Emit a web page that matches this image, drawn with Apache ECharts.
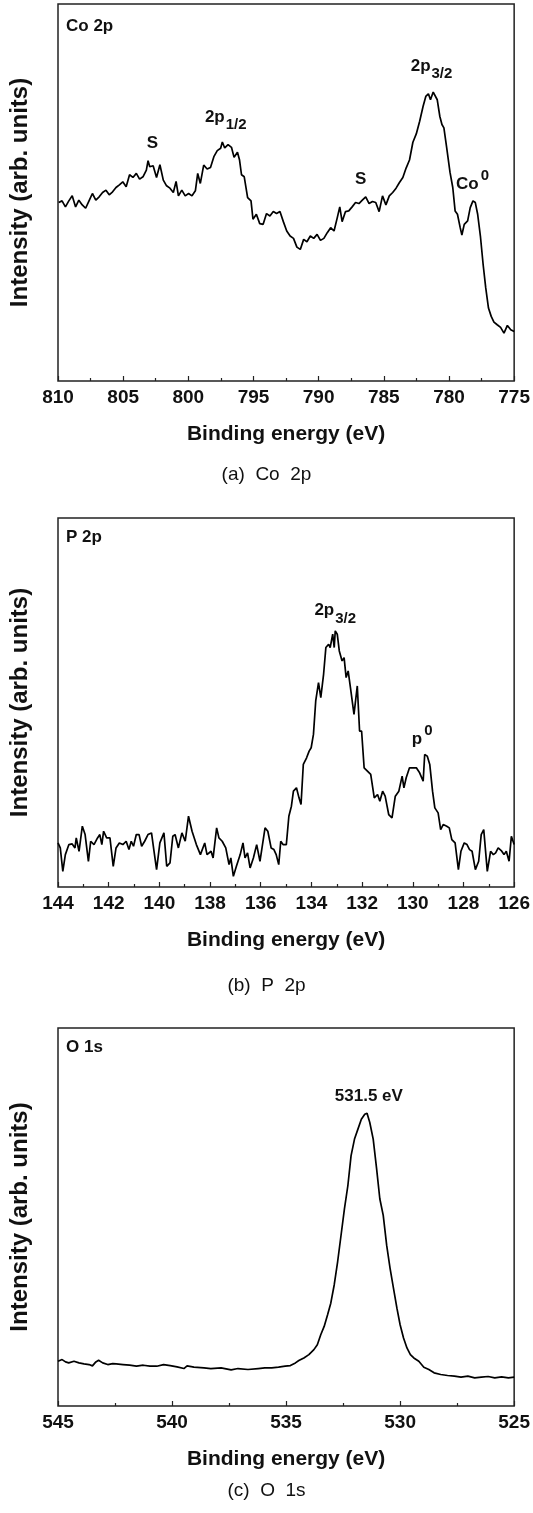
<!DOCTYPE html>
<html>
<head>
<meta charset="utf-8">
<title>XPS spectra: Co 2p, P 2p, O 1s</title>
<script src="https://cdn.jsdelivr.net/npm/echarts@6/dist/echarts.min.js"></script>
<style>
  html, body {margin: 0; padding: 0; background: #fff;}
  #chart {width: 533px; height: 1513px;}
</style>
</head>
<body>
<div id="chart"></div>
<script>
// (a) Co 2p -- binding energy (eV) and intensity (arb. units)
const coEnergy = [
  809.95, 809.69, 809.43, 809.17, 808.91, 808.65, 808.40, 808.14, 807.88, 807.62,
  807.36, 807.10, 806.84, 806.58, 806.32, 806.07, 805.81, 805.55, 805.29, 805.03,
  804.77, 804.51, 804.25, 803.99, 803.74, 803.48, 803.22, 803.09, 802.96, 802.70,
  802.44, 802.18, 801.92, 801.67, 801.41, 801.15, 800.94, 800.76, 800.50, 800.24,
  799.98, 799.72, 799.46, 799.28, 799.08, 798.82, 798.56, 798.30, 798.04, 797.78,
  797.52, 797.39, 797.21, 796.95, 796.69, 796.49, 796.23, 796.07, 795.92, 795.71,
  795.45, 795.19, 795.04, 794.78, 794.52, 794.26, 794.00, 793.74, 793.48, 793.23,
  792.97, 792.71, 792.45, 792.19, 791.93, 791.67, 791.41, 791.15, 790.90, 790.64,
  790.38, 790.12, 789.86, 789.60, 789.34, 789.08, 788.82, 788.57, 788.38, 788.20,
  787.94, 787.69, 787.43, 787.17, 786.91, 786.65, 786.39, 786.13, 785.87, 785.62,
  785.36, 785.10, 784.84, 784.58, 784.32, 784.06, 783.80, 783.54, 783.29, 783.03,
  782.77, 782.51, 782.25, 781.99, 781.78, 781.58, 781.42, 781.21, 781.06, 780.90,
  780.70, 780.54, 780.39, 780.18, 779.92, 779.71, 779.53, 779.35, 779.14, 779.01,
  778.83, 778.57, 778.37, 778.16, 777.98, 777.80, 777.59, 777.38, 777.18, 776.97,
  776.76, 776.55, 776.30, 776.04, 775.78, 775.52, 775.26, 775.00
];
const coIntensity = [
  53.3, 53.8, 52.0, 53.8, 55.3, 52.0, 54.0, 52.6, 51.6, 53.8,
  56.0, 54.0, 55.0, 56.3, 57.0, 55.6, 56.5, 57.8, 58.6, 59.5,
  58.0, 61.6, 60.8, 62.0, 60.3, 61.0, 63.0, 65.8, 64.0, 64.3,
  60.8, 64.6, 60.0, 58.3, 57.6, 56.3, 59.6, 55.3, 57.0, 55.3,
  56.0, 55.3, 56.8, 62.0, 59.0, 64.5, 63.3, 63.8, 67.0, 68.8,
  69.5, 71.4, 69.6, 70.6, 69.8, 66.8, 68.3, 66.0, 61.6, 61.0,
  54.8, 53.8, 48.3, 49.8, 47.0, 46.8, 50.0, 49.3, 50.6, 50.0,
  50.6, 47.6, 44.8, 43.3, 42.6, 40.0, 39.3, 42.3, 41.6, 43.3,
  42.6, 43.8, 42.0, 42.6, 44.3, 45.8, 44.8, 48.8, 52.0, 47.6,
  50.6, 50.8, 52.0, 53.3, 53.0, 54.0, 55.0, 53.0, 53.6, 53.3,
  50.6, 55.3, 52.6, 55.3, 56.3, 57.6, 59.3, 60.8, 63.6, 66.0,
  71.3, 73.8, 77.6, 82.0, 85.0, 85.8, 84.0, 86.3, 86.8, 84.0,
  79.0, 76.6, 75.6, 69.8, 62.3, 57.8, 50.8, 49.8, 45.8, 43.6,
  46.8, 47.8, 51.8, 53.8, 53.3, 49.8, 43.3, 34.8, 27.8, 21.8,
  19.3, 17.6, 16.8, 16.0, 14.3, 16.6, 15.3, 14.8
];

// (b) P 2p
const pEnergy = [
  144.00, 143.91, 143.81, 143.71, 143.57, 143.44, 143.33, 143.28, 143.17, 143.04,
  142.93, 142.80, 142.71, 142.58, 142.44, 142.35, 142.27, 142.20, 142.08, 141.95,
  141.82, 141.71, 141.58, 141.44, 141.31, 141.20, 141.11, 141.02, 140.91, 140.80,
  140.70, 140.58, 140.45, 140.31, 140.22, 140.11, 139.98, 139.82, 139.71, 139.58,
  139.47, 139.38, 139.25, 139.11, 138.98, 138.85, 138.71, 138.54, 138.38, 138.21,
  138.12, 137.96, 137.88, 137.74, 137.65, 137.52, 137.38, 137.25, 137.18, 137.08,
  136.96, 136.81, 136.70, 136.62, 136.52, 136.42, 136.29, 136.16, 136.03, 135.83,
  135.72, 135.59, 135.48, 135.39, 135.29, 135.21, 135.12, 134.99, 134.89, 134.79,
  134.71, 134.59, 134.49, 134.41, 134.32, 134.19, 134.09, 134.01, 133.92, 133.83,
  133.72, 133.63, 133.52, 133.43, 133.32, 133.26, 133.16, 133.10, 133.06, 132.98,
  132.90, 132.79, 132.71, 132.63, 132.55, 132.46, 132.32, 132.19, 132.10, 132.02,
  131.92, 131.79, 131.66, 131.52, 131.39, 131.30, 131.19, 131.09, 130.95, 130.82,
  130.69, 130.55, 130.42, 130.35, 130.26, 130.13, 129.99, 129.86, 129.73, 129.59,
  129.53, 129.43, 129.33, 129.22, 129.13, 129.00, 128.90, 128.80, 128.66, 128.56,
  128.46, 128.33, 128.20, 128.10, 127.97, 127.86, 127.76, 127.66, 127.53, 127.40,
  127.30, 127.20, 127.06, 126.93, 126.82, 126.73, 126.63, 126.51, 126.40, 126.31,
  126.20, 126.11, 126.00
];
const pIntensity = [
  13.2, 11.7, 4.7, 9.7, 12.7, 12.9, 11.7, 14.7, 10.7, 18.2,
  15.7, 7.7, 13.7, 12.7, 14.7, 15.7, 12.7, 16.7, 14.7, 14.7,
  6.2, 11.7, 13.2, 12.7, 13.7, 11.2, 13.7, 12.2, 15.7, 15.7,
  12.2, 13.7, 15.7, 16.2, 11.2, 5.2, 13.2, 16.2, 6.2, 7.2,
  15.2, 15.7, 11.7, 16.2, 13.7, 21.2, 16.7, 12.7, 9.7, 13.2,
  9.7, 10.7, 8.7, 17.7, 14.7, 13.7, 11.7, 6.7, 8.7, 3.2,
  6.2, 9.7, 13.2, 8.7, 10.2, 5.7, 8.7, 12.7, 7.7, 17.7,
  16.7, 11.7, 11.2, 9.7, 6.7, 13.7, 12.7, 12.7, 21.2, 24.2,
  28.7, 29.7, 26.7, 24.7, 36.7, 38.7, 40.7, 41.7, 45.7, 55.7,
  61.2, 56.7, 63.7, 71.7, 72.7, 71.7, 75.7, 71.7, 76.7, 75.7,
  70.7, 67.7, 68.7, 62.7, 64.7, 59.7, 51.7, 60.2, 46.7, 46.7,
  35.7, 34.7, 33.7, 26.7, 27.7, 25.7, 28.7, 27.2, 21.7, 20.7,
  27.2, 28.7, 33.2, 29.7, 32.7, 35.7, 35.7, 35.7, 34.2, 31.7,
  39.7, 39.2, 36.7, 28.7, 23.7, 22.2, 17.2, 18.7, 18.2, 17.7,
  14.2, 13.2, 5.2, 10.7, 13.2, 12.7, 11.2, 10.7, 5.2, 7.7,
  15.7, 17.2, 4.7, 10.7, 9.7, 10.2, 11.7, 10.9, 9.7, 10.7,
  7.7, 15.2, 12.7
];

// (c) O 1s
const oEnergy = [
  545.00, 544.82, 544.67, 544.53, 544.30, 544.08, 543.86, 543.64, 543.49, 543.34,
  543.22, 543.04, 542.82, 542.60, 542.45, 542.15, 541.86, 541.56, 541.26, 540.97,
  540.67, 540.37, 540.08, 539.78, 539.48, 539.34, 539.04, 538.60, 538.30, 537.85,
  537.41, 537.11, 536.67, 536.22, 535.93, 535.63, 535.33, 535.04, 534.81, 534.59,
  534.44, 534.22, 534.00, 533.78, 533.63, 533.48, 533.33, 533.18, 533.04, 532.89,
  532.74, 532.59, 532.44, 532.29, 532.15, 532.00, 531.85, 531.70, 531.55, 531.45,
  531.33, 531.18, 531.03, 530.89, 530.74, 530.59, 530.44, 530.29, 530.14, 530.00,
  529.85, 529.70, 529.55, 529.40, 529.18, 528.96, 528.74, 528.51, 528.22, 527.92,
  527.62, 527.33, 527.03, 526.73, 526.44, 526.14, 525.85, 525.55, 525.25, 525.00
];
const oIntensity = [
  13.5, 14.0, 13.3, 13.0, 13.5, 13.0, 12.7, 12.5, 12.1, 13.3,
  13.8, 13.0, 12.5, 12.8, 12.7, 12.5, 12.3, 12.0, 12.3, 12.0,
  12.0, 12.5, 12.2, 11.8, 11.3, 12.1, 11.7, 11.5, 11.3, 11.5,
  10.9, 11.3, 11.0, 11.3, 11.5, 11.5, 11.7, 12.0, 12.2, 13.0,
  13.7, 14.5, 15.5, 17.0, 18.5, 21.5, 24.0, 27.5, 31.0, 36.5,
  43.5, 51.5, 59.5, 66.5, 75.5, 80.5, 83.5, 86.5, 88.0, 88.3,
  85.5, 80.5, 71.5, 62.5, 57.5, 48.5, 41.5, 35.5, 29.5, 24.5,
  20.5, 17.5, 15.5, 14.5, 13.5, 11.7, 11.0, 10.0, 9.5, 9.2,
  9.0, 8.7, 9.0, 8.5, 8.7, 8.9, 8.5, 8.8, 8.5, 8.7
];

const FONT = "'Liberation Sans', Arial, Helvetica, sans-serif";
const INK = '#111';

// rich-text styles for peak labels (sub/superscripts)
const richStyles = {
  m: {fontFamily: FONT, fontSize: 17, fontWeight: 'bold', color: INK, verticalAlign: 'top', lineHeight: 19},
  mp: {fontFamily: FONT, fontSize: 17, fontWeight: 'bold', color: INK, verticalAlign: 'top', lineHeight: 19, padding: [8, 0, 0, 0]},
  sub: {fontFamily: FONT, fontSize: 15, fontWeight: 'bold', color: INK, verticalAlign: 'top', lineHeight: 17, padding: [9, 0, 0, 1]},
  sup: {fontFamily: FONT, fontSize: 15, fontWeight: 'bold', color: INK, verticalAlign: 'top', lineHeight: 17, padding: [0, 0, 0, 2]}
};

const panels = [
  {
    top: 4, height: 377, min: 775, max: 810, interval: 5, yMax: 112.6,
    energy: coEnergy, intensity: coIntensity,
    tag: 'Co 2p', tagTop: 18, caption: '(a)  Co  2p', captionTop: 465,
    marks: [
      {coord: [802.75, 70.8], text: '{m|S}'},
      {coord: [797.13, 78.6], text: '{m|2p}{sub|1/2}'},
      {coord: [786.78, 59.8], text: '{m|S}'},
      {coord: [781.34, 93.8], text: '{m|2p}{sub|3/2}'},
      {coord: [778.19, 60.8], text: '{mp|Co}{sup|0}'}
    ]
  },
  {
    top: 518, height: 369, min: 126, max: 144, interval: 2, yMax: 110.5,
    energy: pEnergy, intensity: pIntensity,
    tag: 'P 2p', tagTop: 529, caption: '(b)  P  2p', captionTop: 976,
    marks: [
      {coord: [133.06, 82.5], text: '{m|2p}{sub|3/2}'},
      {coord: [129.63, 46.2], text: '{mp|p}{sup|0}'}
    ]
  },
  {
    top: 1028, height: 378, min: 525, max: 545, interval: 5, yMax: 114,
    energy: oEnergy, intensity: oIntensity,
    tag: 'O 1s', tagTop: 1039, caption: '(c)  O  1s', captionTop: 1481,
    marks: [
      {coord: [531.37, 93.0], text: '{m|531.5 eV}'}
    ]
  }
];

const chart = echarts.init(document.getElementById('chart'));

chart.setOption({
  animation: false,
  backgroundColor: '#fff',
  title: panels.flatMap(p => [
    {
      text: p.tag, left: 66, top: p.tagTop, padding: 0,
      textStyle: {fontFamily: FONT, fontSize: 17, fontWeight: 'bold', color: INK}
    },
    {
      text: p.caption, left: 'center', top: p.captionTop, padding: 0,
      textStyle: {fontFamily: FONT, fontSize: 19, fontWeight: 'normal', color: INK}
    }
  ]),
  grid: panels.map(p => ({
    left: 57, width: 459, top: p.top, height: p.height,
    show: true, borderColor: '#222', borderWidth: 1.5, backgroundColor: 'transparent'
  })),
  xAxis: panels.map((p, i) => ({
    gridIndex: i,
    type: 'value',
    inverse: true,
    min: p.min,
    max: p.max,
    interval: p.interval,
    axisLine: {show: false},
    axisTick: {show: true, inside: true, length: 5, lineStyle: {color: '#222', width: 1.2}},
    minorTick: {show: true, splitNumber: 2, length: 3, lineStyle: {color: '#222', width: 1.2}},
    splitLine: {show: false},
    minorSplitLine: {show: false},
    axisLabel: {fontFamily: FONT, fontSize: 19, fontWeight: 'bold', color: INK, margin: 7},
    name: 'Binding energy (eV)',
    nameLocation: 'middle',
    nameGap: 43,
    nameTextStyle: {fontFamily: FONT, fontSize: 21, fontWeight: 'bold', color: INK}
  })),
  yAxis: panels.map((p, i) => ({
    gridIndex: i,
    type: 'value',
    min: 0,
    max: p.yMax,
    axisLine: {show: false},
    axisTick: {show: false},
    axisLabel: {show: false},
    splitLine: {show: false},
    name: 'Intensity (arb. units)',
    nameLocation: 'middle',
    nameRotate: 90,
    nameGap: 26,
    nameTextStyle: {fontFamily: FONT, fontSize: 24, fontWeight: 'bold', color: INK}
  })),
  series: panels.map((p, i) => ({
    type: 'line',
    xAxisIndex: i,
    yAxisIndex: i,
    data: p.energy.map((e, k) => [e, p.intensity[k]]),
    showSymbol: false,
    symbol: 'none',
    silent: true,
    lineStyle: {color: '#000', width: 1.7},
    markPoint: {
      silent: true,
      symbol: 'circle',
      symbolSize: 0,
      itemStyle: {color: 'transparent'},
      label: {show: true, position: 'inside', color: INK, rich: richStyles},
      data: p.marks.map(m => ({coord: m.coord, label: {formatter: m.text}}))
    }
  }))
});
</script>
</body>
</html>
